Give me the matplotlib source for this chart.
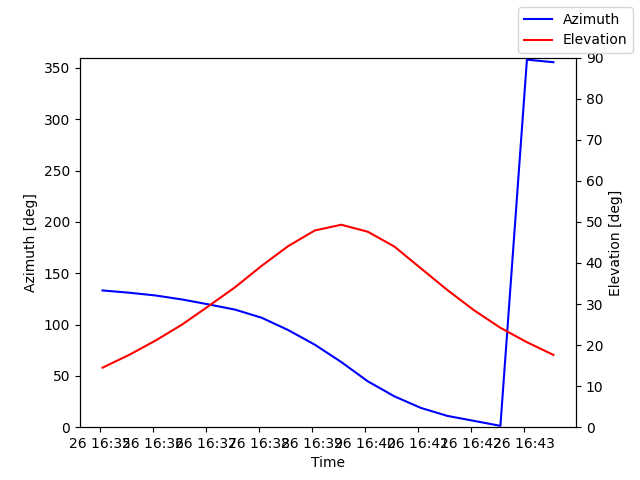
import pandas as pd
import matplotlib
matplotlib.use("Agg")
import matplotlib.pyplot as plt
import matplotlib.dates as mdates

# pass samples, every 30 s
times = pd.to_datetime([
    "2023-10-26 16:35:03", "2023-10-26 16:35:33", "2023-10-26 16:36:03",
    "2023-10-26 16:36:33", "2023-10-26 16:37:03", "2023-10-26 16:37:33",
    "2023-10-26 16:38:03", "2023-10-26 16:38:33", "2023-10-26 16:39:03",
    "2023-10-26 16:39:33", "2023-10-26 16:40:03", "2023-10-26 16:40:33",
    "2023-10-26 16:41:03", "2023-10-26 16:41:33", "2023-10-26 16:42:03",
    "2023-10-26 16:42:33", "2023-10-26 16:43:03", "2023-10-26 16:43:33",
])
azimuth = [133.2, 131.0, 128.3, 124.4, 119.6, 114.5, 106.6, 94.6, 80.4,
           63.5, 44.7, 30.1, 18.8, 11.0, 6.2, 1.3, 358.0, 355.5]
elevation = [14.5, 17.6, 21.1, 25.0, 29.5, 34.1, 39.3, 44.1, 47.9,
             49.3, 47.6, 44.0, 38.7, 33.4, 28.5, 24.2, 20.7, 17.6]

fig, ax1 = plt.subplots(figsize=(6.4, 4.8), dpi=100)
ax2 = ax1.twinx()

ax1.plot(times, azimuth, color="blue", label="Azimuth")
ax2.plot(times, elevation, color="red", label="Elevation")

ax1.set_ylim(0, 360)
ax2.set_ylim(0, 90)
ax1.set_xlabel("Time")
ax1.set_ylabel("Azimuth [deg]")
ax2.set_ylabel("Elevation [deg]")

ax1.xaxis.set_major_locator(mdates.MinuteLocator())
ax1.xaxis.set_major_formatter(mdates.DateFormatter("%d %H:%M"))

fig.legend()
fig.savefig("out.png")
